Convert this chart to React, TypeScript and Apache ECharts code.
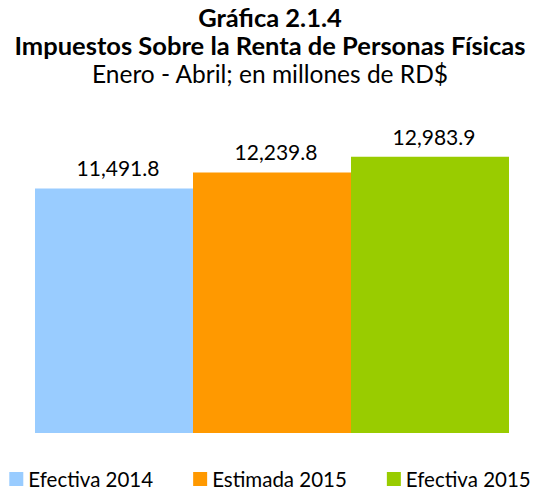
import React, { useEffect, useRef } from "react";
import * as echarts from "echarts";

const seriesNames = ["Efectiva 2014", "Estimada 2015", "Efectiva 2015"];
const seriesValues = [11491.8, 12239.8, 12983.9];
const seriesColors = ["#99CCFF", "#FF9900", "#99CC00"];
const categories = ["Enero - Abril"];

const FONT = "Lato, 'Open Sans', sans-serif";

export default function App() {
  const ref = useRef<HTMLDivElement>(null);
  useEffect(() => {
    document.body.style.margin = "0";
    if (!ref.current) return;
    const chart = echarts.init(ref.current, null, { renderer: "svg" });
    const titleStyle = (bold: boolean) => ({
      fontFamily: FONT,
      fontSize: bold ? 25.5 : 24.5,
      lineHeight: 24,
      fontWeight: bold ? "bold" : "normal",
      color: "#000",
    });
    chart.setOption({
      animation: false,
      backgroundColor: "#ffffff",
      title: [
        { text: "Gráfica 2.1.4", left: "center", top: 5, padding: 0, textStyle: titleStyle(true) },
        {
          text: "Impuestos Sobre la Renta de Personas Físicas",
          left: "center",
          top: 33,
          padding: 0,
          textStyle: titleStyle(true),
        },
        {
          text: "Enero - Abril; en millones de RD$",
          left: "center",
          top: 61,
          padding: 0,
          textStyle: titleStyle(false),
        },
      ],
      legend: {
        data: seriesNames,
        top: 468,
        left: "center",
        padding: 0,
        itemWidth: 14,
        itemHeight: 14,
        itemGap: 40,
        icon: "rect",
        textStyle: { fontFamily: FONT, fontSize: 20.5, lineHeight: 22, color: "#000" },
      },
      grid: { left: 35, right: 31, top: 135, bottom: 58, containLabel: false },
      xAxis: {
        type: "category",
        data: categories,
        axisLine: { show: false },
        axisTick: { show: false },
        axisLabel: { show: false },
      },
      yAxis: {
        type: "value",
        min: 0,
        max: 14000,
        show: false,
        splitLine: { show: false },
      },
      series: seriesNames.map((name, i) => ({
        name,
        type: "bar",
        data: [seriesValues[i]],
        barGap: "0%",
        barCategoryGap: "0%",
        itemStyle: { color: seriesColors[i] },
        label: {
          show: true,
          position: "top",
          distance: 10,
          offset: [4, 0],
          fontFamily: FONT,
          fontSize: 21,
          color: "#000",
          formatter: (p: any) =>
            p.value.toLocaleString("en-US", { minimumFractionDigits: 1, maximumFractionDigits: 1 }),
        },
      })),
    });
    return () => chart.dispose();
  }, []);
  return <div ref={ref} style={{ width: 540, height: 491 }} />;
}
